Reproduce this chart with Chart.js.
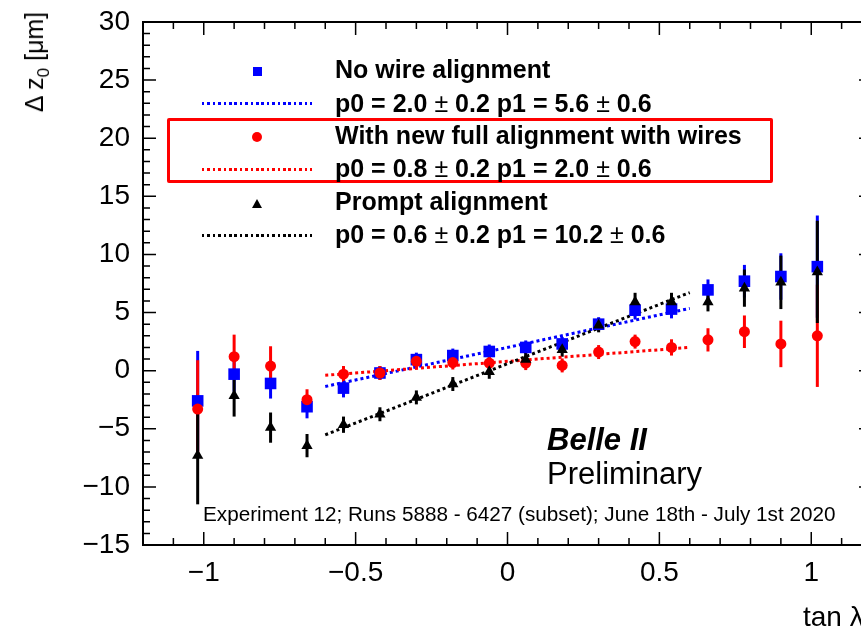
<!DOCTYPE html>
<html>
<head>
<meta charset="utf-8">
<script src="https://cdn.jsdelivr.net/npm/chart.js@4"></script>
<style>
  body { margin: 0; background: #fff; overflow: hidden; }
  #wrap { position: relative; width: 861px; height: 630px; overflow: hidden; font-family: "Liberation Sans", Arial, sans-serif; }
  #wrap canvas { position: absolute; left: 0; top: 0; }
  .txt { position: absolute; white-space: nowrap; color: #000; line-height: 30px; }
  .lg { font-size: 25px; font-weight: bold; left: 335px; }
  .pm { font-weight: normal; }
  .dots { position: absolute; left: 202px; width: 110px; height: 2.5px; }
</style>
</head>
<body>
<div id="wrap">
  <canvas id="myChart" width="900" height="630"></canvas>

  <!-- legend -->
  <div style="position:absolute;left:167px;top:118px;width:600px;height:59px;border:3px solid #ff0000;border-radius:2px;"></div>
  <div style="position:absolute;left:253px;top:67px;width:9px;height:9px;background:#0000ff;"></div>
  <div class="dots" style="top:102px;background:repeating-linear-gradient(90deg,#0000ff 0 2.5px,transparent 2.5px 5.4px);"></div>
  <div style="position:absolute;left:252px;top:132px;width:10px;height:10px;border-radius:50%;background:#ff0000;"></div>
  <div class="dots" style="top:168px;background:repeating-linear-gradient(90deg,#ff0000 0 2.5px,transparent 2.5px 5.4px);"></div>
  <div style="position:absolute;left:252px;top:199px;width:0;height:0;border-left:5px solid transparent;border-right:5px solid transparent;border-bottom:9px solid #000;"></div>
  <div class="dots" style="top:234px;background:repeating-linear-gradient(90deg,#000 0 2.5px,transparent 2.5px 5.4px);"></div>

  <div class="txt lg" style="top:54px;">No wire alignment</div>
  <div class="txt lg" style="top:88px;">p0 = 2.0 <span class="pm">±</span> 0.2 p1 = 5.6 <span class="pm">±</span> 0.6</div>
  <div class="txt lg" style="top:120px;">With new full alignment with wires</div>
  <div class="txt lg" style="top:153px;">p0 = 0.8 <span class="pm">±</span> 0.2 p1 = 2.0 <span class="pm">±</span> 0.6</div>
  <div class="txt lg" style="top:186px;">Prompt alignment</div>
  <div class="txt lg" style="top:219px;">p0 = 0.6 <span class="pm">±</span> 0.2 p1 = 10.2 <span class="pm">±</span> 0.6</div>

  <!-- labels -->
  <div class="txt" style="left:547px;top:422px;font-size:31px;font-weight:bold;font-style:italic;line-height:36px;">Belle II</div>
  <div class="txt" style="left:547px;top:456px;font-size:31px;line-height:36px;">Preliminary</div>
  <div class="txt" style="left:203px;top:499px;font-size:20.7px;">Experiment 12; Runs 5888 - 6427 (subset); June 18th - July 1st 2020</div>
  <div class="txt" style="left:803px;top:602px;font-size:28px;">tan λ</div>
  <div class="txt" style="left:39px;top:62px;font-size:25px;transform:translate(-50%,-50%) rotate(-90deg);transform-origin:center;">Δ z<sub style="font-size:17px;">0</sub> [μm]</div>
</div>

<script>
// bin centres in tan(lambda)
const xBins = [-1.02, -0.9, -0.78, -0.66, -0.54, -0.42, -0.3, -0.18, -0.06, 0.06, 0.18, 0.3, 0.42, 0.54, 0.66, 0.78, 0.9, 1.02];

// No wire alignment
const blueVals = [-2.6, -0.3, -1.1, -3.1, -1.5, -0.2, 0.95, 1.3, 1.65, 2.0, 2.3, 4.0, 5.2, 5.3, 6.95, 7.7, 8.1, 8.95];
const blueErrs = [4.3, 1.5, 1.3, 1.0, 0.8, 0.6, 0.6, 0.6, 0.6, 0.6, 0.6, 0.6, 0.8, 0.8, 0.9, 1.4, 2.0, 4.4];

// With new full alignment with wires
const redVals = [-3.3, 1.2, 0.4, -2.5, -0.3, -0.2, 0.8, 0.7, 0.65, 0.65, 0.45, 1.6, 2.5, 2.0, 2.65, 3.35, 2.3, 3.0];
const redErrs = [4.2, 1.9, 1.7, 0.9, 0.7, 0.6, 0.6, 0.6, 0.6, 0.6, 0.6, 0.6, 0.6, 0.7, 1.0, 1.4, 2.0, 4.4];

// Prompt alignment
const blackVals = [-7.3, -2.15, -4.9, -6.45, -4.65, -3.75, -2.3, -1.15, -0.1, 0.97, 1.8, 3.9, 5.9, 5.9, 5.9, 7.1, 7.6, 8.5];
const blackErrs = [4.2, 1.8, 1.3, 1.0, 0.7, 0.6, 0.6, 0.6, 0.6, 0.6, 0.6, 0.6, 0.8, 0.8, 0.8, 1.6, 2.3, 4.4];

// linear fits, end points over the fit range
const fitRange = [-0.6, 0.6];
const blueFit = [-1.36, 5.36];
const redFit = [-0.4, 2.0];
const blackFit = [-5.52, 6.72];

// axes
const xTicks = [-1, -0.5, 0, 0.5, 1];
const yTicks = [-15, -10, -5, 0, 5, 10, 15, 20, 25, 30];

const minus = (v) => String(v).replace("-", "\u2212");

function points(xs, ys, errs) {
  return xs.map((x, i) => ({ x: x, y: ys[i], err: errs ? errs[i] : 0 }));
}

// vertical error bars, drawn under the markers
const errorBars = {
  id: "errorBars",
  beforeDatasetsDraw(chart) {
    const c = chart.ctx;
    const xs = chart.scales.x;
    const ys = chart.scales.y;
    c.save();
    c.beginPath();
    c.rect(chart.chartArea.left, chart.chartArea.top, chart.chartArea.width, chart.chartArea.height);
    c.clip();
    // blue first, then red, then black on top
    [2, 1, 0].forEach((di) => {
      const ds = chart.data.datasets[di];
      c.strokeStyle = ds.backgroundColor;
      c.lineWidth = 3;
      ds.data.forEach((p) => {
        const px = xs.getPixelForValue(p.x);
        c.beginPath();
        c.moveTo(px, ys.getPixelForValue(p.y - p.err));
        c.lineTo(px, ys.getPixelForValue(p.y + p.err));
        c.stroke();
      });
    });
    c.restore();
  },
};

// ROOT style frame with inward ticks
const frame = {
  id: "frame",
  afterDraw(chart) {
    const c = chart.ctx;
    const a = chart.chartArea;
    const xs = chart.scales.x;
    const ys = chart.scales.y;
    c.save();
    c.strokeStyle = "#000";
    c.lineWidth = 2;
    c.strokeRect(a.left, a.top, a.right - a.left, a.bottom - a.top);
    c.lineWidth = 1.5;
    c.beginPath();
    for (let i = -12; i <= 12; i++) {
      const px = xs.getPixelForValue(i / 10);
      const len = i % 5 === 0 ? 13 : 7;
      c.moveTo(px, a.bottom);
      c.lineTo(px, a.bottom - len);
      c.moveTo(px, a.top);
      c.lineTo(px, a.top + len);
    }
    for (let v = -15; v <= 30; v++) {
      const py = ys.getPixelForValue(v);
      const len = v % 5 === 0 ? 13 : 7;
      c.moveTo(a.left, py);
      c.lineTo(a.left + len, py);
      c.moveTo(a.right, py);
      c.lineTo(a.right - len, py);
    }
    c.stroke();
    c.restore();
  },
};

const ctx = document.getElementById("myChart");

new Chart(ctx, {
  type: "scatter",
  data: {
    datasets: [
      {
        label: "Prompt alignment",
        data: points(xBins, blackVals, blackErrs),
        backgroundColor: "#000000",
        pointStyle: "triangle",
        pointRadius: 6.5,
        pointBorderWidth: 0,
      },
      {
        label: "With new full alignment with wires",
        data: points(xBins, redVals, redErrs),
        backgroundColor: "#ff0000",
        pointStyle: "circle",
        pointRadius: 5.5,
        pointBorderWidth: 0,
      },
      {
        label: "No wire alignment",
        data: points(xBins, blueVals, blueErrs),
        backgroundColor: "#0000ff",
        pointStyle: "rect",
        pointRadius: 8.2,
        pointBorderWidth: 0,
      },
      {
        label: "Prompt fit",
        data: points(fitRange, blackFit),
        showLine: true,
        borderColor: "#000000",
        borderWidth: 3,
        borderDash: [3, 3],
        pointRadius: 0,
      },
      {
        label: "Full alignment fit",
        data: points(fitRange, redFit),
        showLine: true,
        borderColor: "#ff0000",
        borderWidth: 3,
        borderDash: [3, 3],
        pointRadius: 0,
      },
      {
        label: "No wire fit",
        data: points(fitRange, blueFit),
        showLine: true,
        borderColor: "#0000ff",
        borderWidth: 3,
        borderDash: [3, 3],
        pointRadius: 0,
      },
    ],
  },
  options: {
    responsive: false,
    animation: false,
    devicePixelRatio: 1,
    layout: { padding: { left: 0, top: 22, right: 28, bottom: 0 } },
    plugins: {
      legend: { display: false },
      tooltip: { enabled: false },
    },
    scales: {
      x: {
        type: "linear",
        min: -1.2,
        max: 1.2,
        grid: { display: false, drawTicks: false },
        border: { display: false },
        afterBuildTicks: (s) => { s.ticks = xTicks.map((v) => ({ value: v })); },
        afterFit: (s) => { s.height = 85; s.paddingLeft = 0; s.paddingRight = 0; },
        ticks: {
          padding: 11,
          color: "#000",
          font: { family: "Liberation Sans", size: 28 },
          callback: (v) => minus(v),
        },
      },
      y: {
        type: "linear",
        min: -15,
        max: 30,
        grid: { display: false, drawTicks: false },
        border: { display: false },
        afterBuildTicks: (s) => { s.ticks = yTicks.map((v) => ({ value: v })); },
        afterFit: (s) => { s.width = 143; s.paddingTop = 0; s.paddingBottom = 0; },
        ticks: {
          padding: 13,
          color: "#000",
          font: { family: "Liberation Sans", size: 28 },
          callback: (v) => minus(v),
        },
      },
    },
  },
  plugins: [errorBars, frame],
});
</script>
</body>
</html>
